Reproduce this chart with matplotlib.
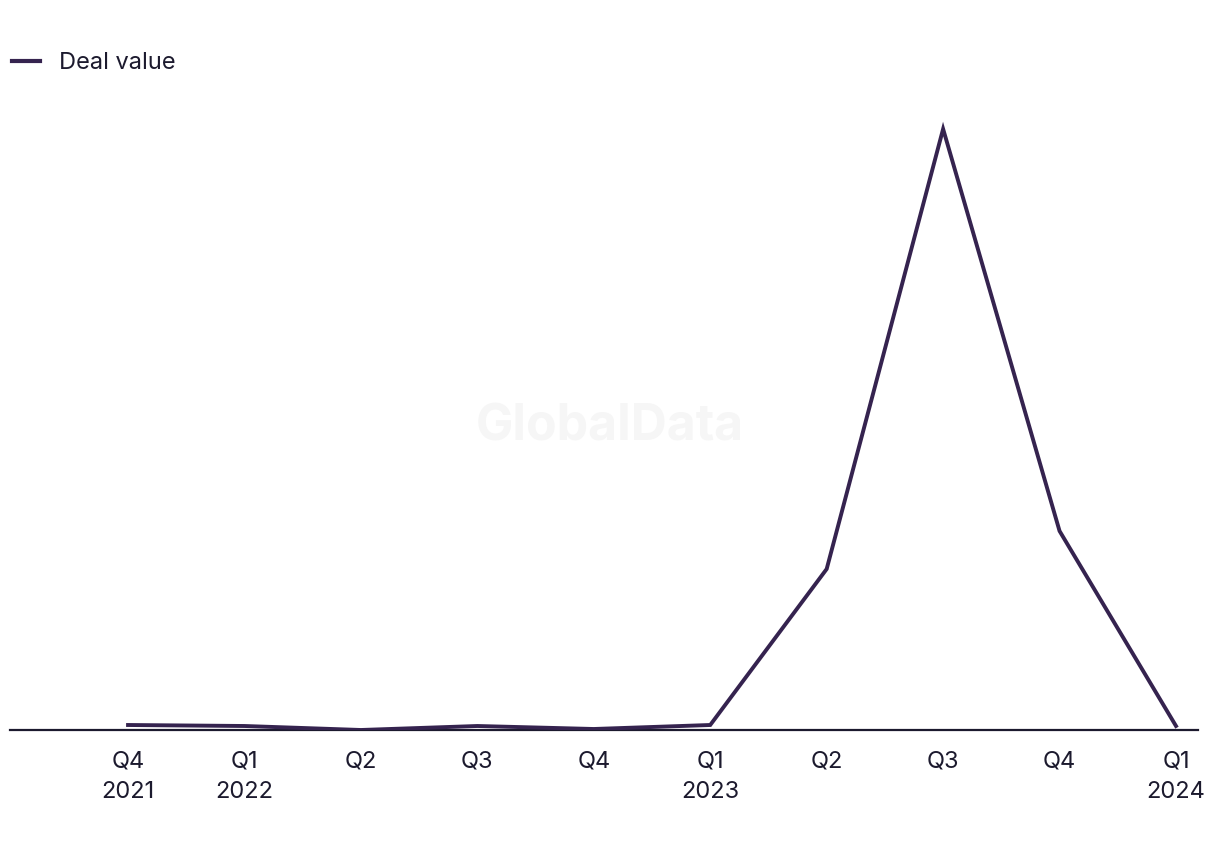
import matplotlib
matplotlib.use("Agg")
import matplotlib.pyplot as plt
from matplotlib.lines import Line2D

quarters = ["Q4\n2021", "Q1\n2022", "Q2", "Q3", "Q4", "Q1\n2023", "Q2", "Q3", "Q4", "Q1\n2024"]
deal_value = [5, 4, 0, 4, 1, 5, 161, 601, 199, 4]

line_color = "#35234f"
text_color = "#1c1a2e"

plt.rcParams['font.family'] = ['Inter', 'DejaVu Sans']

fig = plt.figure(figsize=(12.2, 8.5), dpi=100)
W, H = 1220, 850
left, right, top, bottom = 10, 1198, 100, 730
ax = fig.add_axes([left / W, 1 - bottom / H, (right - left) / W, (bottom - top) / H])

x = list(range(len(quarters)))
ax.plot(x, deal_value, color=line_color, lw=2.8, solid_joinstyle="miter", zorder=3)

step = 116.4
ax.set_xlim(-(128 - left) / step, 9 + (right - 1176) / step)
peak = max(deal_value)
ax.set_ylim(0, peak * (bottom - top) / (730 - 129))

for s in ["top", "right", "left"]:
    ax.spines[s].set_visible(False)
ax.spines["bottom"].set_color(text_color)
ax.spines["bottom"].set_linewidth(1.6)
ax.set_yticks([])
ax.set_xticks(x)
ax.set_xticklabels(quarters, fontsize=17, color=text_color, linespacing=1.5)
ax.tick_params(axis="x", length=0, pad=15)

fig.text(610 / W, 1 - 427 / H, "GlobalData", fontsize=36, fontweight="bold",
         color="#f6f6f6", ha="center", va="center", zorder=0)

handle = Line2D([0], [0], color=line_color, lw=3)
leg = fig.legend([handle], ["Deal value"], loc="center left",
                 bbox_to_anchor=(12 / W, 1 - 63 / H), frameon=False, fontsize=17,
                 handlelength=1.2, handletextpad=0.8, borderaxespad=0, borderpad=0)
for t in leg.get_texts():
    t.set_color(text_color)

fig.savefig("out.png", dpi=100, facecolor="white")
